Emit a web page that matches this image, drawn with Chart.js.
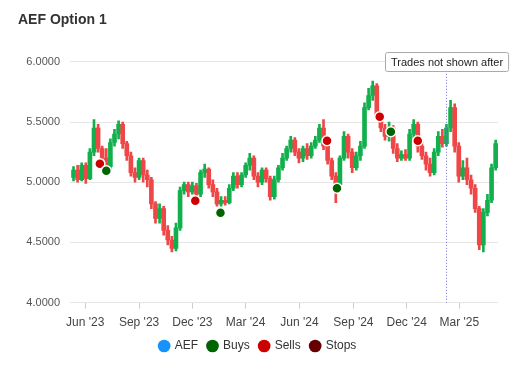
<!DOCTYPE html>
<html><head>
<script src="https://cdn.jsdelivr.net/npm/chart.js"></script>
<style>
  body { margin: 0; background: #fff; }
  canvas { display: block; }
</style>
</head>
<body>
<canvas id="chart" width="530" height="380"></canvas>
<script>
// weekly candles, starting from this date
const firstWeek = '2023-05-12';
const opens = [
  5.04,5.10,5.02,5.14,5.03,5.25,5.45,5.28,5.20,5.13,
  5.33,5.40,5.48,5.32,5.22,5.08,5.04,5.18,5.06,5.02,
  4.82,4.70,4.78,4.60,4.52,4.45,4.62,4.93,4.98,4.92,
  4.97,4.90,5.08,5.11,4.98,4.92,4.82,4.85,4.83,4.95,
  5.05,4.98,5.06,5.14,5.20,5.05,5.00,5.10,5.03,4.88,
  5.02,5.12,5.20,5.28,5.35,5.25,5.20,5.28,5.22,5.30,
  5.35,5.45,5.30,5.18,5.05,4.98,5.20,5.38,5.25,5.12,
  5.22,5.30,5.62,5.72,5.80,5.55,5.45,5.38,5.45,5.28,
  5.20,5.23,5.20,5.40,5.48,5.30,5.22,5.15,5.08,5.25,
  5.38,5.32,5.45,5.62,5.30,5.05,5.12,5.02,4.95,4.78,
  4.48,4.75,4.85,5.12
];
const closes = [
  5.10,5.02,5.14,5.03,5.25,5.45,5.28,5.20,5.13,5.33,
  5.40,5.48,5.32,5.22,5.08,5.04,5.18,5.06,5.02,4.82,
  4.70,4.78,4.60,4.52,4.45,4.62,4.93,4.98,4.92,4.97,
  4.90,5.08,5.11,4.98,4.92,4.82,4.85,4.83,4.95,5.05,
  4.98,5.06,5.14,5.20,5.05,5.00,5.10,5.03,4.88,5.02,
  5.12,5.20,5.28,5.35,5.25,5.20,5.28,5.22,5.30,5.35,
  5.45,5.30,5.18,5.05,4.98,5.20,5.38,5.25,5.12,5.22,
  5.30,5.62,5.72,5.80,5.55,5.45,5.38,5.45,5.28,5.20,
  5.23,5.20,5.40,5.48,5.30,5.22,5.15,5.08,5.25,5.38,
  5.32,5.45,5.62,5.30,5.05,5.12,5.02,4.95,4.78,4.48,
  4.75,4.85,5.12,5.32
];
const highs = [
  5.13,5.14,5.16,5.16,5.28,5.52,5.48,5.30,5.28,5.36,
  5.44,5.51,5.50,5.34,5.25,5.12,5.20,5.20,5.10,5.04,
  4.84,4.82,4.80,4.64,4.55,4.66,4.96,5.00,5.00,5.00,
  4.99,5.10,5.15,5.12,5.02,4.95,4.88,4.88,4.98,5.08,
  5.08,5.08,5.16,5.24,5.22,5.08,5.12,5.12,5.05,5.05,
  5.14,5.24,5.30,5.38,5.37,5.28,5.30,5.32,5.33,5.38,
  5.48,5.52,5.34,5.20,5.08,5.22,5.42,5.40,5.28,5.25,
  5.34,5.66,5.78,5.84,5.82,5.58,5.48,5.50,5.47,5.32,
  5.26,5.27,5.44,5.52,5.50,5.34,5.25,5.20,5.28,5.42,
  5.44,5.48,5.68,5.65,5.33,5.18,5.20,5.06,4.98,4.80,
  4.78,4.90,5.15,5.35
];
const lows = [
  5.01,5.00,5.01,4.99,5.02,5.22,5.25,5.15,5.10,5.10,
  5.30,5.36,5.28,5.18,5.05,5.00,5.02,5.00,4.96,4.78,
  4.66,4.66,4.56,4.48,4.42,4.43,4.60,4.90,4.88,4.90,
  4.86,4.88,5.04,4.95,4.88,4.80,4.80,4.81,4.82,4.93,
  4.95,4.96,5.04,5.10,5.02,4.96,4.98,5.00,4.85,4.86,
  5.00,5.10,5.18,5.25,5.22,5.16,5.17,5.19,5.20,5.28,
  5.33,5.27,5.15,5.02,4.83,4.97,5.18,5.20,5.08,5.10,
  5.18,5.28,5.60,5.68,5.52,5.42,5.35,5.34,5.24,5.17,
  5.18,5.18,5.18,5.36,5.25,5.19,5.10,5.05,5.06,5.22,
  5.29,5.30,5.42,5.25,5.00,5.02,4.98,4.90,4.75,4.44,
  4.42,4.72,4.83,5.10
];

const buyDates = ['2023-07-07', '2024-01-18', '2024-08-04', '2024-11-04'];
const buyPrices = [5.095, 4.747, 4.950, 5.419];
const sellDates = ['2023-06-26', '2023-12-06', '2024-07-18', '2024-10-16', '2024-12-20'];
const sellPrices = [5.154, 4.846, 5.344, 5.544, 5.344];
const stopDates = [];
const stopPrices = [];

const tickDates = ['2023-06-01', '2023-09-01', '2023-12-01', '2024-03-01',
                   '2024-06-01', '2024-09-01', '2024-12-01', '2025-03-01'];
const tickLabels = ["Jun '23", "Sep '23", "Dec '23", "Mar '24",
                    "Jun '24", "Sep '24", "Dec '24", "Mar '25"];
const cutoffDate = '2025-02-07';
const cutoffText = 'Trades not shown after';

const DAY = 86400000;
const dayNum = s => Date.parse(s) / DAY;
const start = dayNum(firstWeek);
const weeks = opens.map((_, i) => start + i * 7);

const UP = '#12b04c';
const DOWN = '#ef4747';
const candleColor = c => closes[c.dataIndex] >= opens[c.dataIndex] ? UP : DOWN;
const points = (dates, prices) => dates.map((d, i) => ({ x: dayNum(d), y: prices[i] }));

const legendNames = ['AEF', 'Buys', 'Sells', 'Stops'];
const legendColors = ['#1592fb', '#006400', '#cc0000', '#660000'];

Chart.defaults.font.family = "'Liberation Sans', Arial, sans-serif";

// dotted cut-off line with its label
const cutoffPlugin = {
  id: 'cutoff',
  afterDatasetsDraw(chart) {
    const { ctx, chartArea, scales } = chart;
    const x = Math.round(scales.x.getPixelForValue(dayNum(cutoffDate))) + 0.5;
    ctx.save();
    ctx.strokeStyle = '#6f6fd6';
    ctx.lineWidth = 1;
    ctx.setLineDash([1, 2]);
    ctx.beginPath();
    ctx.moveTo(x, chartArea.top);
    ctx.lineTo(x, chartArea.bottom);
    ctx.stroke();
    ctx.setLineDash([]);
    ctx.font = "11px 'Liberation Sans', Arial, sans-serif";
    const w = ctx.measureText(cutoffText).width + 11;
    const h = 19;
    const bx = Math.round(x - w / 2) + 0.5;
    const by = Math.round(chartArea.top - 10) + 0.5;
    ctx.fillStyle = '#fff';
    ctx.strokeStyle = '#aaa';
    ctx.beginPath();
    ctx.roundRect(bx, by, w, h, 2);
    ctx.fill();
    ctx.stroke();
    ctx.fillStyle = '#222';
    ctx.textBaseline = 'middle';
    ctx.fillText(cutoffText, bx + 5.5, by + h / 2 + 0.5);
    ctx.restore();
  }
};

new Chart(document.getElementById('chart'), {
  type: 'bar',
  data: {
    datasets: [
      { type: 'line', label: 'Buys', data: points(buyDates, buyPrices), showLine: false,
        pointRadius: 5, pointBackgroundColor: '#006400', pointBorderColor: '#fff', pointBorderWidth: 1.5, order: 0 },
      { type: 'line', label: 'Sells', data: points(sellDates, sellPrices), showLine: false,
        pointRadius: 5, pointBackgroundColor: '#cc0000', pointBorderColor: '#fff', pointBorderWidth: 1.5, order: 0 },
      { type: 'line', label: 'Stops', data: points(stopDates, stopPrices), showLine: false,
        pointRadius: 5, pointBackgroundColor: '#660000', pointBorderColor: '#fff', pointBorderWidth: 1.5, order: 0 },
      { label: 'AEF', data: weeks.map((x, i) => ({ x, y: [opens[i], closes[i]] })),
        backgroundColor: candleColor, barThickness: 4, grouped: false, order: 1 },
      { label: 'wick', data: weeks.map((x, i) => ({ x, y: [lows[i], highs[i]] })),
        backgroundColor: candleColor, barThickness: 2, grouped: false, order: 2 }
    ]
  },
  options: {
    responsive: false,
    animation: false,
    layout: { padding: { left: 18, right: 32, top: 0, bottom: 18 } },
    scales: {
      x: {
        type: 'linear',
        min: dayNum('2023-05-06'),
        max: dayNum('2025-05-06'),
        offset: false,
        afterBuildTicks: s => { s.ticks = tickDates.map(d => ({ value: dayNum(d) })); },
        afterFit: s => { s.height -= 7; },
        ticks: {
          autoSkip: false, maxRotation: 0, padding: 7,
          color: '#444', font: { size: 12 },
          callback: (v, i) => tickLabels[i]
        },
        grid: { offset: false, drawOnChartArea: false, tickLength: 6, color: '#ccc' },
        border: { display: false }
      },
      y: {
        min: 4, max: 6,
        afterFit: s => { s.width = 52; },
        ticks: { stepSize: 0.5, padding: 10, color: '#555', font: { size: 11 },
                 callback: v => v.toFixed(4) },
        grid: { color: '#e6e6e6', drawTicks: false },
        border: { display: false }
      }
    },
    plugins: {
      title: {
        display: true, text: 'AEF Option 1', align: 'start', color: '#333',
        font: { size: 14, weight: 'bold' }, padding: { top: 12, bottom: 33 }
      },
      legend: {
        position: 'bottom',
        labels: {
          usePointStyle: true, boxWidth: 9, boxHeight: 9, padding: 10,
          color: '#333', font: { size: 12 },
          generateLabels: () => legendNames.map((name, i) => ({
            text: name, fillStyle: legendColors[i], strokeStyle: legendColors[i],
            lineWidth: 0, pointStyle: 'circle', hidden: false, fontColor: '#333'
          }))
        }
      },
      tooltip: { enabled: false }
    }
  },
  plugins: [cutoffPlugin]
});
</script>
</body></html>
